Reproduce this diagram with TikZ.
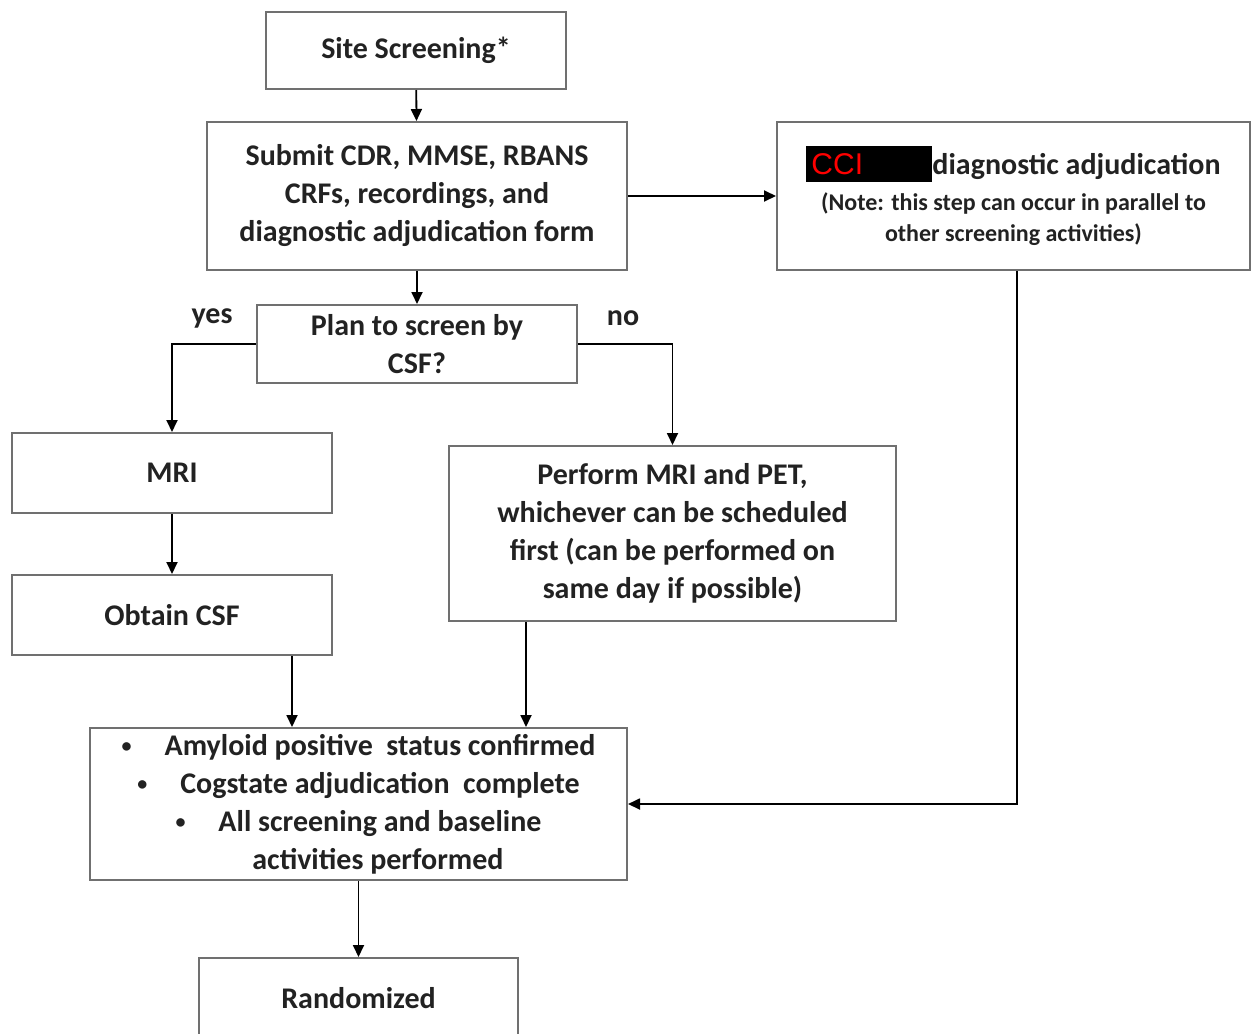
\documentclass[tikz,border=0pt]{standalone}
\usepackage{fontspec}
\setmainfont{Carlito}
\newfontfamily\arialfont{Liberation Sans}
\usetikzlibrary{arrows.meta}

\definecolor{boxgray}{HTML}{707070}
\definecolor{textgray}{HTML}{222222}

\newcommand{\ccimark}{{\setlength{\fboxsep}{0pt}\colorbox{black}{\makebox[63pt][l]{\rule[-4pt]{0pt}{18pt}\arialfont\mdseries\color{red}\,CCI}}}}
\newcommand{\dotitem}{\raisebox{1.5pt}{\fontsize{10}{10}\selectfont\textbullet}\hspace{1.1em}}

\tikzset{
  box/.style={draw=boxgray, line width=1pt, fill=white, align=center,
              inner sep=0pt, text=textgray,
              font=\fontsize{15}{19}\selectfont\bfseries},
  lbl/.style={text=textgray, font=\fontsize{15}{19}\selectfont\bfseries}
}

\begin{document}
\begin{tikzpicture}[x=0.5pt,y=-0.5pt,->,>={Triangle[length=6pt,width=5.5pt]},
                    line width=0.9pt]

  \clip (0,0) rectangle (1251,1033);
  \fill[white] (0,0) rectangle (1251,1033);

  \node[box, minimum width=150pt, minimum height=38.5pt] (site)    at (416,50.5)   {Site Screening*};
  \node[box, minimum width=210pt, minimum height=74pt]   (submit)  at (417,196)    {Submit CDR, MMSE, RBANS\\CRFs, recordings, and\\diagnostic adjudication form};
  \node[box, minimum width=236.5pt, minimum height=74pt] (cci)     at (1013.5,196) {\ccimark diagnostic adjudication\\[-1pt]
                                                                                    \fontsize{12}{15.5}\selectfont (Note: this step can occur in parallel to\\[-3.5pt]
                                                                                    \fontsize{12}{15.5}\selectfont other screening activities)};
  \node[box, minimum width=160pt, minimum height=39pt]   (plan)    at (417,344)    {Plan to screen by\\CSF?};
  \node[box, minimum width=160pt, minimum height=40pt]   (mri)     at (172,473)    {MRI};
  \node[box, minimum width=223.5pt, minimum height=87.5pt] (perform) at (672.5,533.5) {Perform MRI and PET,\\whichever can be scheduled\\first (can be performed on\\same day if possible)};
  \node[box, minimum width=160pt, minimum height=40pt]   (csf)     at (172,615)    {Obtain CSF};
  \node[box, minimum width=268.5pt, minimum height=76pt] (checks)  at (358.5,804)  {\dotitem Amyloid positive\ \ status confirmed\\
                                                                                    \dotitem Cogstate adjudication\ \ complete\\
                                                                                    \dotitem All screening and baseline\\
                                                                                    \hspace*{1.3em}activities performed};
  \node[box, minimum width=159.5pt, minimum height=40pt] (rand)    at (358.5,998)  {Randomized};

  \node[lbl] (yes) at (212,318) {yes};
  \node[lbl] (no)  at (623,318) {no};

  \draw (site) -- (submit);
  \draw (submit) -- (cci);
  \draw (submit) -- (plan);
  \draw (plan.west) -| (mri);
  \draw (plan.east) -| (perform);
  \draw (mri) -- (csf);
  \draw ([xshift=60pt]csf.south) coordinate (csfout) -- (csfout |- checks.north);
  \draw ([xshift=-73.25pt]perform.south) coordinate (petout) -- (petout |- checks.north);
  \draw ([xshift=1.75pt]cci.south) |- (checks.east);
  \draw (checks) -- (rand);

\end{tikzpicture}
\end{document}
